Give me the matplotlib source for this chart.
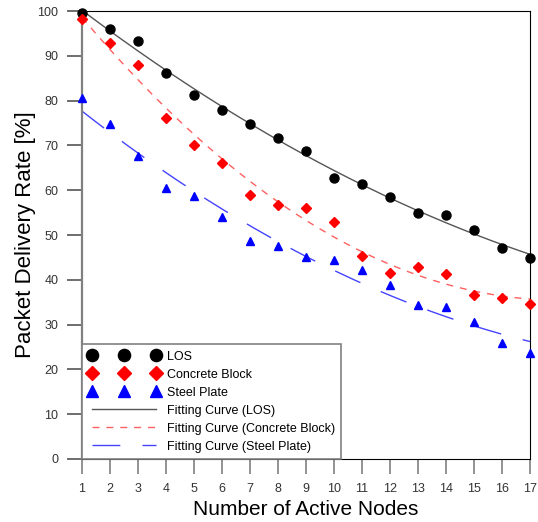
import numpy as np
import matplotlib.pyplot as plt

plt.rcParams['font.family'] = ['Liberation Sans', 'DejaVu Sans']

nodes = np.arange(1, 18)
los = [99.5, 96.0, 93.3, 86.2, 81.2, 78.0, 74.7, 71.6, 68.7, 62.7, 61.4, 58.5, 55.0, 54.5, 51.2, 47.2, 44.8]
concrete = [98.3, 92.8, 88.0, 76.2, 70.0, 66.0, 59.0, 56.6, 56.0, 53.0, 45.3, 41.5, 42.8, 41.3, 36.7, 35.9, 34.6]
steel = [80.6, 74.8, 67.6, 60.5, 58.8, 54.0, 48.7, 47.6, 45.0, 44.4, 42.2, 38.8, 34.3, 33.9, 30.6, 26.0, 23.7]

def fit(y, deg=2):
    # least squares polynomial through the measured points
    p = np.polyfit(nodes, y, deg)
    xs = np.linspace(1, 17, 200)
    return xs, np.polyval(p, xs)

fig = plt.figure(figsize=(5.38, 5.22), dpi=100)
ax = fig.add_axes([0.1524, 0.1207, 0.8327, 0.8582])

xs, yl = fit(los)
_, yc = fit(concrete)
_, ys = fit(steel)

ax.plot(nodes, los, 'o', color='black', markersize=6.5, clip_on=False, zorder=3, label='LOS')
ax.plot(nodes, concrete, 'D', color='red', markersize=5.2, clip_on=False, zorder=3, label='Concrete Block')
ax.plot(nodes, steel, '^', color='blue', markersize=6, clip_on=False, zorder=3, label='Steel Plate')
ax.plot(xs, yl, '-', color='#555555', lw=1, label='Fitting Curve (LOS)')
ax.plot(xs, yc, '--', color='#ff6060', lw=1, dashes=(5, 5), label='Fitting Curve (Concrete Block)')
ax.plot(xs, ys, '-', color='#4444ff', lw=1, dashes=(20, 16), label='Fitting Curve (Steel Plate)')

ax.set_xlim(1, 17)
ax.set_ylim(0, 100)
ax.set_xticks(nodes)
ax.set_yticks(np.arange(0, 101, 10))
ax.tick_params(direction='out', length=11, width=1.2, labelsize=9, pad=6,
               labelcolor='#333333')
ax.tick_params(axis='x', color='#808080')
ax.tick_params(axis='y', color='#555555')
ax.spines['left'].set_color('#808080')
ax.spines['left'].set_linewidth(1.6)
ax.set_xlabel('Number of Active Nodes', fontsize=15, labelpad=4)
ax.set_ylabel('Packet Delivery Rate [%]', fontsize=16, labelpad=1)

leg = ax.legend(loc='lower left', bbox_to_anchor=(0, 0), borderaxespad=0,
                numpoints=3, markerscale=1.35, fontsize=9, handlelength=5.7,
                handletextpad=0.6, labelspacing=0.48, fancybox=False,
                framealpha=1, edgecolor='#808080', borderpad=0.5)
leg.get_frame().set_linewidth(1.2)

fig.savefig('out.png', dpi=100)
